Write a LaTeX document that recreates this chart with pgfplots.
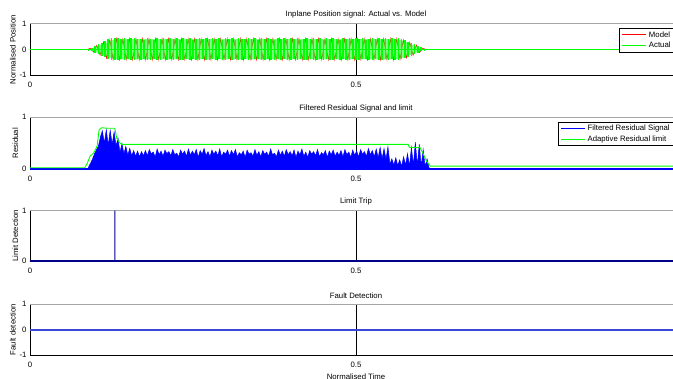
\documentclass[border=0pt]{standalone}
\usepackage{fontspec}
\setmainfont{Liberation Sans}
\usepackage{pgfplots}
\usepackage{pgfplotstable}
\pgfplotsset{compat=1.18}
\definecolor{mred}{RGB}{255,0,0}
\definecolor{mgreen}{RGB}{0,255,0}
\definecolor{mblue}{RGB}{0,0,255}
\definecolor{mnavy}{RGB}{0,0,140}
\definecolor{mblue4}{RGB}{60,70,215}
\newcommand{\ff}{\fontsize{7.8}{9}\selectfont}
% Actual signal: bar x, upper peak, lower peak
\pgfplotstableread{
x p m
0.090 0.03 -0.03
0.095 0.07 -0.06
0.100 0.13 -0.12
0.105 0.20 -0.18
0.110 0.27 -0.25
0.115 0.33 -0.31
0.120 0.39 -0.36
0.125 0.43 -0.40
0.130 0.46 -0.42
0.135 0.44 -0.40
0.140 0.41 -0.37
0.145 0.45 -0.41
0.150 0.39 -0.38
0.155 0.43 -0.42
0.160 0.46 -0.39
0.165 0.40 -0.36
0.170 0.42 -0.41
0.175 0.37 -0.38
0.180 0.44 -0.40
0.185 0.42 -0.39
0.190 0.38 -0.36
0.195 0.45 -0.41
0.200 0.41 -0.40
0.205 0.44 -0.37
0.210 0.39 -0.42
0.215 0.46 -0.38
0.220 0.40 -0.40
0.225 0.43 -0.36
0.230 0.38 -0.41
0.235 0.45 -0.39
0.240 0.41 -0.37
0.245 0.44 -0.42
0.250 0.37 -0.38
0.255 0.42 -0.40
0.260 0.46 -0.41
0.265 0.40 -0.36
0.270 0.43 -0.39
0.275 0.39 -0.42
0.280 0.45 -0.38
0.285 0.41 -0.40
0.290 0.44 -0.37
0.295 0.38 -0.41
0.300 0.46 -0.39
0.305 0.40 -0.36
0.310 0.43 -0.42
0.315 0.37 -0.38
0.320 0.45 -0.40
0.325 0.42 -0.41
0.330 0.39 -0.37
0.335 0.44 -0.39
0.340 0.41 -0.42
0.345 0.46 -0.38
0.350 0.38 -0.36
0.355 0.43 -0.40
0.360 0.40 -0.41
0.365 0.45 -0.37
0.370 0.42 -0.39
0.375 0.37 -0.42
0.380 0.44 -0.38
0.385 0.41 -0.40
0.390 0.46 -0.36
0.395 0.39 -0.41
0.400 0.43 -0.39
0.405 0.40 -0.37
0.410 0.45 -0.42
0.415 0.38 -0.38
0.420 0.42 -0.40
0.425 0.44 -0.41
0.430 0.39 -0.36
0.435 0.46 -0.39
0.440 0.41 -0.42
0.445 0.43 -0.38
0.450 0.37 -0.40
0.455 0.45 -0.37
0.460 0.40 -0.41
0.465 0.44 -0.39
0.470 0.42 -0.36
0.475 0.38 -0.42
0.480 0.46 -0.38
0.485 0.41 -0.40
0.490 0.43 -0.41
0.495 0.39 -0.37
0.500 0.45 -0.39
0.505 0.40 -0.42
0.510 0.44 -0.38
0.515 0.37 -0.36
0.520 0.42 -0.40
0.525 0.46 -0.41
0.530 0.40 -0.37
0.535 0.43 -0.39
0.540 0.39 -0.42
0.545 0.45 -0.38
0.550 0.41 -0.40
0.555 0.44 -0.37
0.560 0.42 -0.41
0.565 0.43 -0.39
0.570 0.40 -0.37
0.575 0.36 -0.33
0.580 0.31 -0.29
0.585 0.26 -0.24
0.590 0.20 -0.19
0.595 0.14 -0.13
0.600 0.08 -0.07
0.605 0.03 -0.03
}\actualtab
% Model signal
\pgfplotstableread{
x y
0.0000 0
0.0875 0
0.0925 0.05
0.0975 -0.10
0.1025 0.16
0.1075 -0.22
0.1125 0.29
0.1175 -0.34
0.1225 0.39
0.1275 -0.40
0.1325 0.42
0.1375 -0.40
0.1425 0.42
0.1475 -0.40
0.1525 0.42
0.1575 -0.40
0.1625 0.42
0.1675 -0.40
0.1725 0.42
0.1775 -0.40
0.1825 0.42
0.1875 -0.40
0.1925 0.42
0.1975 -0.40
0.2025 0.42
0.2075 -0.40
0.2125 0.42
0.2175 -0.40
0.2225 0.42
0.2275 -0.40
0.2325 0.42
0.2375 -0.40
0.2425 0.42
0.2475 -0.40
0.2525 0.42
0.2575 -0.40
0.2625 0.42
0.2675 -0.40
0.2725 0.42
0.2775 -0.40
0.2825 0.42
0.2875 -0.40
0.2925 0.42
0.2975 -0.40
0.3025 0.42
0.3075 -0.40
0.3125 0.42
0.3175 -0.40
0.3225 0.42
0.3275 -0.40
0.3325 0.42
0.3375 -0.40
0.3425 0.42
0.3475 -0.40
0.3525 0.42
0.3575 -0.40
0.3625 0.42
0.3675 -0.40
0.3725 0.42
0.3775 -0.40
0.3825 0.42
0.3875 -0.40
0.3925 0.42
0.3975 -0.40
0.4025 0.42
0.4075 -0.40
0.4125 0.42
0.4175 -0.40
0.4225 0.42
0.4275 -0.40
0.4325 0.42
0.4375 -0.40
0.4425 0.42
0.4475 -0.40
0.4525 0.42
0.4575 -0.40
0.4625 0.42
0.4675 -0.40
0.4725 0.42
0.4775 -0.40
0.4825 0.42
0.4875 -0.40
0.4925 0.42
0.4975 -0.40
0.5025 0.42
0.5075 -0.40
0.5125 0.42
0.5175 -0.40
0.5225 0.42
0.5275 -0.40
0.5325 0.42
0.5375 -0.40
0.5425 0.42
0.5475 -0.40
0.5525 0.42
0.5575 -0.40
0.5625 0.42
0.5675 -0.39
0.5725 0.37
0.5775 -0.32
0.5825 0.28
0.5875 -0.23
0.5925 0.17
0.5975 -0.11
0.6025 0.05
0.6075 0
1.0000 0
}\modeltab
\pgfplotsset{
 mat/.style={
  scale only axis, width=652bp, xmin=0, xmax=1,
  anchor=north west,
  xtick={0,0.5,1}, xticklabels={0,0.5,1},
  xmajorgrids, major grid style={black, line width=0.5bp},
  axis x line*=bottom, axis y line*=left,
  tick align=inside, major tick length=2.5bp,
  tick style={black, line width=0.5bp},
  axis line style={black, line width=0.7bp, -},
  font=\ff, ticklabel style={font=\ff},
  xticklabel style={yshift=-3bp},
  /pgf/number format/assume math mode=true,
  title style={font=\ff, yshift=-4bp},
  label style={font=\ff},
  ylabel shift=-3bp,
  legend image code/.code={\path (0bp,0bp) -- (24bp,0bp); \draw[#1] (1bp,0bp) -- (23bp,0bp);},
  legend cell align=left,
  legend style={draw=black, line width=0.9bp, font=\ff, inner xsep=2bp, inner ysep=1.5bp,
    row sep=0.5bp, column sep=0.5bp, nodes={inner sep=1.5bp}},
 }
}
\begin{document}
\begin{tikzpicture}
% ---------- Axis 1
\begin{axis}[mat, at={(30bp,-23.7bp)}, height=51.6bp, ymin=-1, ymax=1, ytick={-1,0,1},
  title={Inplane Position signal: Actual vs. Model}, ylabel={Normalised Position},
  legend style={at={(0.904,0.917)}, anchor=north west}]
\draw[gray!70, line width=0.6bp] (rel axis cs:0,1) -- (rel axis cs:1,1);
\addlegendimage{draw=mred, line width=1bp}
\addlegendentry{Model}
\addlegendimage{draw=mgreen, line width=1.1bp}
\addlegendentry{Actual}
\addplot[draw=mred, line width=0.5bp, forget plot] table[x=x, y=y] {\modeltab};
\addplot[fill=mgreen, fill opacity=0.5, draw=none, forget plot] coordinates {(0.090,0)(0.130,0.40)(0.565,0.40)(0.605,0)(0.565,-0.38)(0.130,-0.38)} -- cycle;
\addplot[draw=mgreen, line width=0.9bp, forget plot] coordinates {(0,0.02)(1,0.02)};
\addplot[ycomb, draw=mgreen, line width=1.6bp, forget plot] table[x=x, y=p] {\actualtab};
\addplot[ycomb, draw=mgreen, line width=1.6bp, forget plot] table[x=x, y=m] {\actualtab};
\end{axis}
% ---------- Axis 2
\begin{axis}[mat, at={(30bp,-117.3bp)}, height=52bp, ymin=0, ymax=1, ytick={0,1},
  title={Filtered Residual Signal and limit}, ylabel={Residual},
  legend style={at={(0.810,0.915)}, anchor=north west}]
\draw[gray!70, line width=0.6bp] (rel axis cs:0,1) -- (rel axis cs:1,1);
\addlegendimage{draw=mblue, line width=1bp}
\addlegendentry{Filtered Residual Signal}
\addlegendimage{draw=mgreen, line width=1.1bp}
\addlegendentry{Adaptive Residual limit}
\addplot[draw=mblue, line width=1.6bp, forget plot] coordinates {(0,0.01)(1,0.01)};
\addplot[fill=mblue, draw=mblue, line width=0.5bp, forget plot] coordinates {(0.088,0)
(0.090,0.05)(0.093,0.12)(0.096,0.20)(0.099,0.30)(0.102,0.38)(0.105,0.45)(0.108,0.62)(0.111,0.74)(0.114,0.50)(0.117,0.76)(0.120,0.46)(0.123,0.75)(0.126,0.48)(0.129,0.72)(0.132,0.45)(0.135,0.60)(0.138,0.32)(0.141,0.50)(0.144,0.30)(0.147,0.44)(0.150,0.27)(0.153,0.40)(0.156,0.26)(0.159,0.36)(0.162,0.25)(0.165,0.35)(0.168,0.24)(0.171,0.34)(0.174,0.26)
(0.177,0.36)(0.180,0.26)(0.183,0.38)(0.186,0.30)(0.189,0.33)(0.192,0.24)(0.195,0.39)(0.198,0.28)(0.201,0.35)(0.204,0.25)(0.207,0.37)(0.210,0.30)(0.213,0.34)(0.216,0.26)(0.219,0.38)(0.222,0.28)(0.225,0.31)(0.228,0.24)(0.231,0.37)(0.234,0.29)(0.237,0.35)(0.240,0.25)(0.243,0.39)(0.246,0.27)(0.249,0.35)
(0.252,0.28)(0.255,0.38)(0.258,0.23)(0.261,0.36)(0.264,0.29)(0.267,0.40)(0.270,0.26)(0.273,0.34)(0.276,0.24)(0.279,0.37)(0.282,0.29)(0.285,0.35)(0.288,0.26)(0.291,0.39)(0.294,0.24)(0.297,0.33)(0.300,0.29)(0.303,0.37)(0.306,0.25)(0.309,0.36)(0.312,0.28)(0.315,0.38)(0.318,0.24)(0.321,0.32)(0.324,0.28)
(0.327,0.35)(0.330,0.23)(0.333,0.37)(0.336,0.29)(0.339,0.32)(0.342,0.25)(0.345,0.38)(0.348,0.27)(0.351,0.34)(0.354,0.24)(0.357,0.36)(0.360,0.29)(0.363,0.33)(0.366,0.25)(0.369,0.39)(0.372,0.28)(0.375,0.31)(0.378,0.24)(0.381,0.37)(0.384,0.27)(0.387,0.35)(0.390,0.25)(0.393,0.38)(0.396,0.28)(0.399,0.34)
(0.402,0.26)(0.405,0.37)(0.408,0.23)(0.411,0.35)(0.414,0.28)(0.417,0.39)(0.420,0.25)(0.423,0.33)(0.426,0.23)(0.429,0.36)(0.432,0.29)(0.435,0.34)(0.438,0.26)(0.441,0.38)(0.444,0.24)(0.447,0.32)(0.450,0.28)(0.453,0.36)(0.456,0.23)(0.459,0.35)(0.462,0.28)(0.465,0.37)(0.468,0.25)(0.471,0.33)(0.474,0.27)
(0.477,0.36)(0.480,0.24)(0.483,0.38)(0.486,0.28)(0.489,0.33)(0.492,0.23)(0.495,0.37)(0.498,0.27)(0.501,0.35)(0.504,0.24)(0.507,0.38)(0.510,0.29)(0.513,0.34)(0.516,0.25)(0.519,0.40)(0.522,0.28)(0.525,0.36)(0.528,0.24)(0.531,0.39)(0.534,0.22)(0.537,0.42)(0.540,0.20)(0.543,0.40)(0.546,0.19)(0.549,0.43)
(0.552,0.10)(0.555,0.20)(0.558,0.08)(0.561,0.22)(0.564,0.07)(0.567,0.18)(0.570,0.06)(0.573,0.24)(0.576,0.08)(0.579,0.30)
(0.582,0.06)(0.585,0.42)(0.588,0.08)(0.591,0.52)(0.594,0.07)(0.597,0.48)(0.600,0.06)(0.603,0.38)(0.606,0.05)(0.609,0.20)(0.612,0.03)(0.615,0)};
\addplot[draw=mgreen, line width=0.9bp, forget plot] coordinates {(0,0.03)(0.084,0.03)(0.088,0.12)(0.092,0.25)(0.098,0.32)(0.103,0.45)(0.106,0.76)(0.110,0.80)(0.118,0.79)(0.130,0.79)(0.133,0.60)(0.137,0.52)(0.140,0.48)(0.580,0.48)(0.582,0.42)(0.598,0.42)(0.603,0.30)(0.608,0.16)(0.614,0.06)(1,0.06)};
\end{axis}
% ---------- Axis 3
\begin{axis}[mat, at={(30bp,-210.7bp)}, height=50.6bp, ymin=0, ymax=1, ytick={0,1},
  title={Limit Trip}, ylabel={Limit Detection}]
\draw[gray!70, line width=0.6bp] (rel axis cs:0,1) -- (rel axis cs:1,1);
\addplot[draw=mnavy, line width=0.9bp] coordinates {(0,0)(0.1300,0)(0.1301,1)(0.1302,0)(1,0)};
\addplot[draw=mnavy, line width=1.6bp] coordinates {(0,0.005)(1,0.005)};
\end{axis}
% ---------- Axis 4
\begin{axis}[mat, at={(30bp,-304bp)}, height=51.3bp, ymin=-1, ymax=1, ytick={-1,0,1},
  title={Fault Detection}, ylabel={Fault detection}, xlabel={Normalised Time}]
\draw[gray!70, line width=0.6bp] (rel axis cs:0,1) -- (rel axis cs:1,1);
\addplot[draw=mblue4, line width=2bp] coordinates {(0,0)(1,0)};
\end{axis}
\pgfresetboundingbox
\path[use as bounding box] (0,0) rectangle (673bp,-379bp);
\end{tikzpicture}
\end{document}
